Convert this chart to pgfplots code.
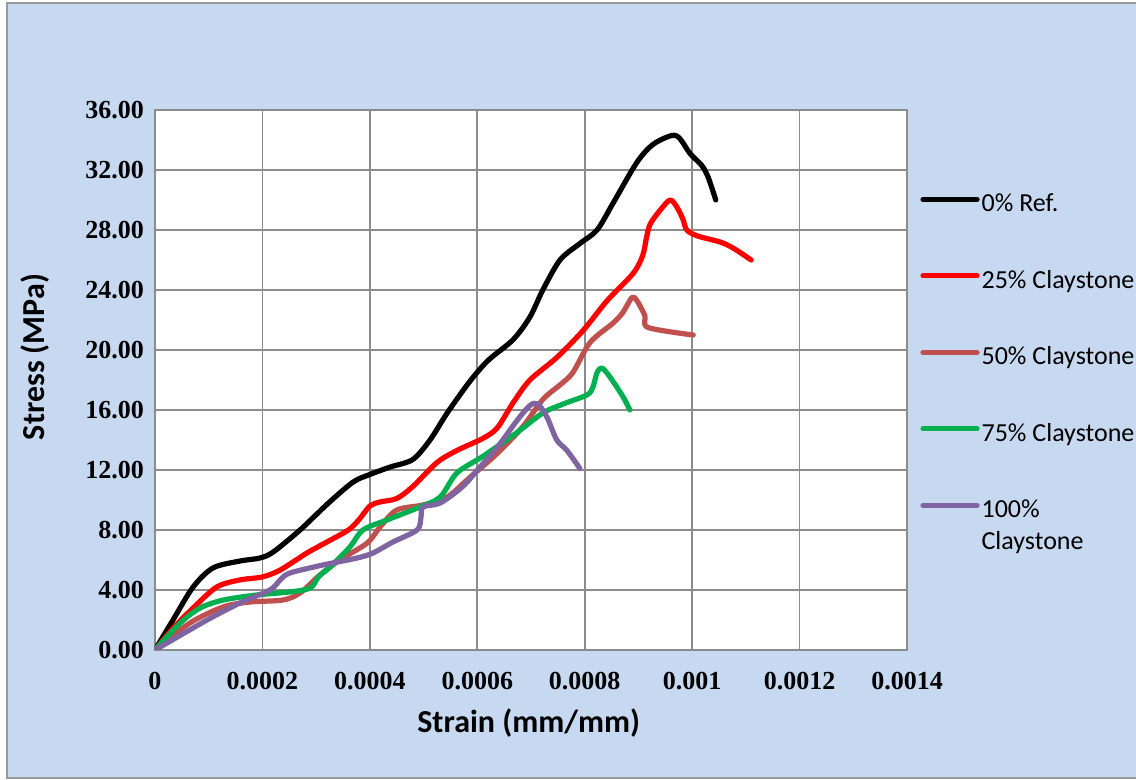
\documentclass[border=0pt]{standalone}
\usepackage{pgfplots}
\pgfplotsset{compat=1.18}
\usepackage{fontspec}
\setmainfont{Liberation Serif}
\newfontfamily\carlito{Carlito}
\definecolor{bgblue}{HTML}{C6D9F1}
\definecolor{gridgray}{HTML}{8C8C8C}
\definecolor{c0}{HTML}{000000}
\definecolor{c25}{HTML}{FF0000}
\definecolor{c50}{HTML}{C0504D}
\definecolor{c75}{HTML}{00B050}
\definecolor{c100}{HTML}{8064A2}
\begin{document}
\begin{tikzpicture}
\useasboundingbox (0,0) rectangle (568pt,390pt);
\fill[white] (0,0) rectangle (568pt,390pt);
\filldraw[fill=bgblue, draw=gray!80, line width=0.8pt] (3.5pt,1pt) rectangle (580pt,388.5pt);
\begin{axis}[
  at={(77.5pt,65pt)}, anchor=south west, scale only axis,
  width=376pt, height=270pt,
  xmin=0, xmax=14, ymin=0, ymax=36,
  xtick={0,2,...,14},
  xticklabels={0,0.0002,0.0004,0.0006,0.0008,0.001,0.0012,0.0014},
  ytick={0,4,...,36},
  yticklabels={0.00,4.00,8.00,12.00,16.00,20.00,24.00,28.00,32.00,36.00},
  ticklabel style={font=\fontsize{13}{15}\selectfont\bfseries},
  xticklabel style={yshift=-7.5pt},
  yticklabel style={xshift=-2pt},
  major tick length=0pt,
  grid=major,
  grid style={gridgray, line width=0.8pt},
  axis line style={gridgray, line width=0.8pt},
  axis background/.style={fill=white},
  xlabel={Strain (mm/mm)},
  ylabel={Stress (MPa)},
  label style={font=\carlito\bfseries\fontsize{16}{18}\selectfont},
  xlabel style={at={(rel axis cs:0.497,-0.135)}, anchor=center},
  ylabel style={at={(rel axis cs:-0.1596,0.5426)}, anchor=center},
  every axis plot/.append style={line width=2.6pt, smooth, tension=0.5, line join=round, line cap=round},
  legend image code/.code={\draw[#1, line cap=round, smooth=false] (0pt,0.3em) -- (27pt,0.3em);},
  legend cell align=left,
  legend style={at={(rel axis cs:1.0173,0.851)}, anchor=north west, draw=none, fill=none,
    inner sep=0pt, row sep=23.75pt, column sep=0pt,
    font=\carlito\fontsize{13}{16}\selectfont,
    nodes={inner sep=1pt, text height=9.5pt, text depth=3pt}},
]
\addplot[c0] coordinates {
(0,0) (0.335,2.0) (0.71,4.2) (1.08,5.47) (1.58,5.93) (1.95,6.13) (2.2,6.53)
(2.7,8.0) (3.23,9.8) (3.69,11.2) (4.0,11.7) (4.38,12.2) (4.8,12.7) (5.12,14.0)
(5.44,15.8) (5.86,17.9) (6.2,19.3) (6.67,20.7) (6.98,22.2) (7.22,24.0) (7.54,26.0)
(7.91,27.1) (8.23,28.0) (8.53,29.8) (8.97,32.5) (9.27,33.7) (9.62,34.3) (9.77,34.1)
(9.96,33.1) (10.18,32.3) (10.3,31.5) (10.44,30.0)};
\addlegendentry{0\% Ref.}
\addplot[c25] coordinates {
(0,0) (0.35,1.5) (0.71,2.8) (1.15,4.2) (1.58,4.67) (2.0,4.87) (2.33,5.33)
(2.83,6.47) (3.2,7.2) (3.6,8.0) (3.8,8.7) (4.0,9.6) (4.19,9.87) (4.5,10.1)
(4.8,10.9) (5.25,12.5) (5.62,13.3) (6.1,14.1) (6.37,14.8) (6.67,16.5) (6.98,18.0)
(7.48,19.5) (7.97,21.3) (8.42,23.3) (8.9,25.1) (9.08,26.3) (9.15,27.5) (9.22,28.4)
(9.4,29.3) (9.59,30.0) (9.72,29.5) (9.83,28.7) (9.9,28.0) (10.1,27.6) (10.52,27.2)
(10.76,26.8) (11.1,26.0)};
\addlegendentry{25\% Claystone}
\addplot[c50] coordinates {
(0,0) (0.65,1.8) (1.27,2.87) (1.77,3.2) (2.38,3.33) (2.7,3.8) (3.07,5.0)
(3.44,6.0) (3.95,7.13) (4.19,8.2) (4.5,9.33) (4.99,9.67) (5.44,10.2) (5.86,11.5)
(6.37,13.1) (6.85,14.9) (7.22,16.7) (7.55,17.7) (7.78,18.5) (8.1,20.5) (8.53,21.8)
(8.71,22.5) (8.88,23.5) (8.97,23.3) (9.12,22.3) (9.18,21.5) (10.02,21.0)};
\addlegendentry{50\% Claystone}
\addplot[c75] coordinates {
(0,0) (0.47,1.8) (0.84,2.8) (1.27,3.33) (1.9,3.67) (2.51,3.87) (2.89,4.13)
(3.05,4.9) (3.26,5.53) (3.63,6.87) (3.87,8.0) (4.32,8.67) (4.93,9.53) (5.31,10.2)
(5.62,11.8) (6.1,12.9) (6.74,14.5) (7.22,15.8) (7.6,16.4) (8.04,17.0) (8.15,17.5)
(8.23,18.5) (8.32,18.8) (8.47,18.2) (8.71,16.9) (8.84,16.0)};
\addlegendentry{75\% Claystone}
\addplot[c100] coordinates {
(0,0) (0.97,2.0) (1.58,3.13) (2.14,4.0) (2.33,4.67) (2.51,5.13) (3.13,5.67)
(3.76,6.13) (4.06,6.47) (4.43,7.2) (4.88,8.0) (4.95,8.8) (4.99,9.53) (5.31,9.8)
(5.73,10.9) (6.05,12.2) (6.37,13.5) (6.74,15.3) (6.98,16.3) (7.13,16.4) (7.3,15.5)
(7.48,14.0) (7.67,13.3) (7.91,12.1)};
\addlegendentry{\begin{tabular}[t]{@{}l@{}}100\%\\Claystone\end{tabular}}
\end{axis}
\end{tikzpicture}
\end{document}
